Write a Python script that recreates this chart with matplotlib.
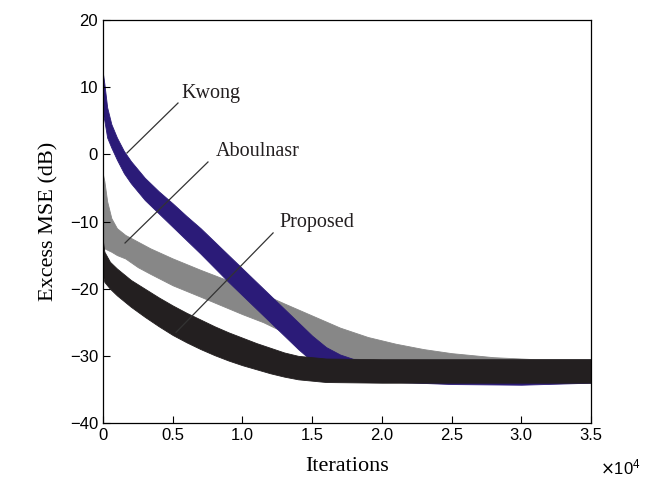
import matplotlib
matplotlib.use("Agg")
import matplotlib.pyplot as plt
from matplotlib.ticker import FuncFormatter

# iterations in units of 1e4, band edges (upper, lower) in dB
kwong_x = [0.0, 0.01, 0.03, 0.06, 0.1, 0.15, 0.2, 0.3, 0.4, 0.5, 0.6, 0.7, 0.8, 0.9, 1.0,
           1.1, 1.2, 1.3, 1.4, 1.5, 1.6, 1.7, 1.8, 2.0, 2.5, 3.0, 3.5]
kwong_hi = [12.0, 10.5, 7.0, 4.5, 2.5, 0.5, -1.0, -3.5, -5.5, -7.3, -9.2, -11.0, -13.0, -15.0, -17.0,
            -19.0, -21.0, -23.0, -25.0, -27.0, -28.7, -29.8, -30.5, -31.0, -31.5, -31.5, -31.5]
kwong_lo = [6.0, 5.0, 2.5, 1.0, -0.8, -2.8, -4.3, -6.8, -8.8, -10.8, -12.8, -14.8, -16.9, -19.0, -21.0,
            -23.0, -25.0, -27.0, -29.0, -30.8, -32.0, -32.8, -33.3, -33.8, -34.2, -34.3, -34.0]

abou_x = [0.0, 0.01, 0.03, 0.06, 0.1, 0.16, 0.25, 0.34, 0.5, 0.7, 0.85, 1.0, 1.15, 1.3, 1.5,
          1.7, 1.9, 2.1, 2.3, 2.5, 2.8, 3.1, 3.5]
abou_hi = [-3.0, -4.0, -7.0, -9.5, -11.0, -12.0, -13.0, -14.0, -15.5, -17.2, -18.4, -19.6, -20.8, -22.2, -24.0,
           -25.8, -27.2, -28.2, -29.0, -29.6, -30.2, -30.5, -30.5]
abou_lo = [-14.0, -14.0, -14.2, -14.5, -15.0, -15.5, -16.8, -17.8, -19.5, -21.2, -22.5, -23.8, -25.0, -26.5, -28.5,
           -30.0, -31.0, -31.5, -31.8, -32.0, -32.0, -32.0, -32.0]

prop_x = [0.0, 0.01, 0.05, 0.1, 0.2, 0.3, 0.4, 0.5, 0.6, 0.7, 0.8, 0.9, 1.0, 1.1, 1.2, 1.3, 1.4,
          1.6, 2.0, 2.5, 3.0, 3.5]
prop_hi = [-13.0, -14.5, -16.0, -17.0, -18.7, -20.0, -21.3, -22.5, -23.6, -24.6, -25.6, -26.5, -27.3, -28.1,
           -28.8, -29.5, -30.0, -30.4, -30.5, -30.5, -30.5, -30.5]
prop_lo = [-18.0, -19.0, -20.0, -21.0, -22.7, -24.2, -25.6, -26.9, -28.0, -29.0, -29.9, -30.7, -31.4, -32.0,
           -32.6, -33.1, -33.5, -33.9, -34.0, -34.0, -34.0, -34.0]

labels = ["Kwong", "Aboulnasr", "Proposed"]
label_xy = [(0.56, 9.1), (0.81, 0.35), (1.263, -10.1)]
leader_x = [(0.538, 0.172), (0.753, 0.158), (1.22, 0.524)]
leader_y = [(7.64, 0.2), (-1.14, -13.2), (-11.7, -26.5)]

x_ticks = [0, 0.5, 1.0, 1.5, 2.0, 2.5, 3.0, 3.5]
y_ticks = [20, 10, 0, -10, -20, -30, -40]

NAVY = "#2b1b78"
GRAY = "#878787"
BLACK = "#231f20"

fig = plt.figure(figsize=(6.61, 4.88), dpi=100)
ax = fig.add_axes([0.1558, 0.1332, 0.7383, 0.8258])

ax.fill_between(abou_x, abou_lo, abou_hi, color=GRAY, lw=0.6, edgecolor=GRAY)
ax.fill_between(kwong_x, kwong_lo, kwong_hi, color=NAVY, lw=0.6, edgecolor=NAVY)
ax.fill_between(prop_x, prop_lo, prop_hi, color=BLACK, lw=0.6, edgecolor=BLACK)

for name, (tx, ty), lx, ly in zip(labels, label_xy, leader_x, leader_y):
    ax.plot(lx, ly, color="#333333", lw=0.9)
    ax.text(tx, ty, name, family="Liberation Serif", fontsize=14.5, va="center", ha="left", color="#231f20")

ax.set_xlim(0, 3.5)
ax.set_ylim(-40, 20)
ax.set_xticks(x_ticks)
ax.set_yticks(y_ticks)
ax.xaxis.set_major_formatter(FuncFormatter(lambda v, p: "0" if v == 0 else f"{v:.1f}"))
ax.tick_params(direction="in", length=5, width=0.8, labelsize=12, top=False, right=False)
for lab in ax.get_xticklabels() + ax.get_yticklabels():
    lab.set_family("Liberation Sans")
for s in ax.spines.values():
    s.set_linewidth(0.9)

ax.set_xlabel("Iterations", family="Liberation Serif", fontsize=16, labelpad=10)
ax.set_ylabel("Excess MSE (dB)", family="Liberation Serif", fontsize=16, labelpad=8)
fig.text(0.97, 0.043, r"$\times\mathregular{10^4}$", family="Liberation Sans", fontsize=12, ha="right", va="center")

fig.savefig("out.png", dpi=100)
